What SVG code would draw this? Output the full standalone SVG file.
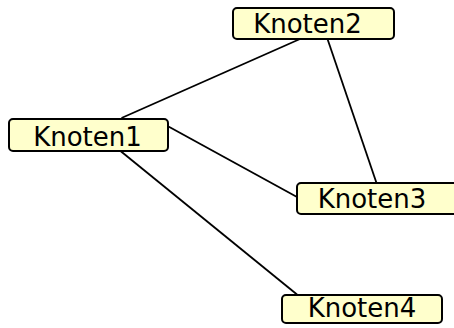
<svg xmlns="http://www.w3.org/2000/svg" width="454" height="328" viewBox="0 0 454 328">
<style>
.box{fill:#ffffcc;stroke:#000;stroke-width:2}
.lbl{font-family:"DejaVu Sans",Verdana,sans-serif;font-size:26px;fill:#000;text-anchor:middle}
.edge{stroke:#000;stroke-width:1.8;fill:none}
</style>
<rect width="454" height="328" fill="#fff"/>
<g id="connectors">
<line class="edge" x1="121.5" y1="118" x2="300" y2="39"/>
<line class="edge" x1="327.5" y1="39" x2="376.5" y2="183"/>
<line class="edge" x1="168" y1="126.2" x2="297" y2="197"/>
<line class="edge" x1="120.5" y1="151" x2="297" y2="294.5"/>
</g>
<g id="Knoten1">
<rect class="box" x="9" y="119" width="159" height="32" rx="4"/>
<text class="lbl" x="87.5" y="146">Knoten1</text>
</g>
<g id="Knoten2">
<rect class="box" x="233" y="8" width="161" height="31" rx="4"/>
<text class="lbl" x="307.5" y="33">Knoten2</text>
</g>
<g id="Knoten3">
<rect class="box" x="297" y="183" width="170" height="31" rx="4"/>
<text class="lbl" x="372" y="208">Knoten3</text>
</g>
<g id="Knoten4">
<rect class="box" x="282" y="295" width="160" height="28" rx="4"/>
<text class="lbl" x="362" y="317">Knoten4</text>
</g>
</svg>
